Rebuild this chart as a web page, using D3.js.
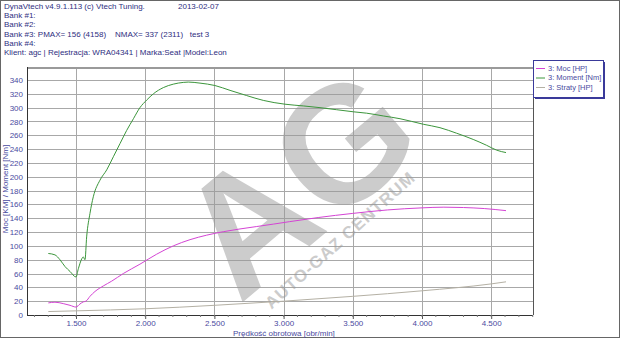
<!DOCTYPE html>
<html>
<head>
<meta charset="utf-8">
<script src="https://cdn.jsdelivr.net/npm/d3@7"></script>
<style>
  body { margin: 0; background: #fff; }
  svg text { font-family: "Liberation Sans", Arial, sans-serif; white-space: pre; }
</style>
</head>
<body>
<div id="chart"></div>
<script>
// dane (obroty [obr/min] -> wartosc)
const momentRpm = [1300, 1348, 1384, 1421, 1457, 1500, 1517, 1541, 1552, 1565, 1577, 1601, 1625, 1673, 1722, 1770, 1818, 1866, 1915, 1962, 2011, 2059, 2131, 2203, 2275, 2311, 2396, 2504, 2613, 2733, 2853, 3010, 3142, 3263, 3384, 3504, 3600, 3720, 3841, 4009, 4130, 4250, 4370, 4467, 4539, 4607];
const momentVal = [89, 87, 80, 70, 63, 55, 67, 81, 84, 80, 113, 147, 171, 195, 210, 229, 248, 267, 284, 300, 311, 320, 329, 334, 336.5, 337, 335.5, 332, 325, 317.5, 310.5, 305, 302.5, 300, 297, 294, 292, 288, 284, 276, 271, 263, 254, 245.5, 238.5, 235];

const mocRpm = [1300, 1348, 1408, 1457, 1500, 1529, 1553, 1572, 1601, 1637, 1697, 1758, 1842, 1962, 2083, 2203, 2324, 2444, 2564, 2685, 2806, 2926, 3041, 3250, 3500, 3750, 4000, 4158, 4300, 4450, 4607];
const mocVal = [17.5, 18.5, 16.5, 14, 11.5, 16, 19, 20, 27, 34, 42, 49, 60, 73.5, 88, 100, 109, 115.5, 120.5, 124.5, 128, 131.5, 135, 141, 147, 152, 155, 156, 155.5, 154, 151];

const stratyRpm = [1300, 1500, 2000, 2500, 3000, 3500, 4000, 4500, 4607];
const stratyVal = [5, 6, 9, 14, 20, 27, 35, 45, 48];

const xTicks = [1500, 2000, 2500, 3000, 3500, 4000, 4500];
const yTicks = d3.range(0, 341, 20);

const headerLines = [
  "DynaVtech v4.9.1.113 (c) Vtech Tuning.",
  "Bank #1:",
  "Bank #2:",
  "Bank #3: PMAX= 156 (4158)    NMAX= 337 (2311)   test 3",
  "Bank #4:",
  "Klient: agc | Rejestracja: WRA04341 | Marka:Seat |Model:Leon"
];
const legendNames = ["3: Moc [HP]", "3: Moment [Nm]", "3: Straty [HP]"];
const colors = ["#d444d4", "#3c963c", "#b4b0a4"];

const width = 620, height = 338;
const plotLeft = 27, plotRight = 533, plotBottom = 315, plotTop = 67;
const txt = "#4a4aa0";

const svg = d3.select("#chart").append("svg")
  .attr("width", width).attr("height", height);

svg.append("rect").attr("x", 0.5).attr("y", 0.5)
  .attr("width", width - 1).attr("height", height - 1)
  .attr("fill", "#fff").attr("stroke", "#666");

const x = d3.scaleLinear().domain([1146, 4802]).range([plotLeft, plotRight]);
const y = d3.scaleLinear().domain([0, 340]).range([plotBottom, 80]);

// siatka
svg.append("g").selectAll("line").data(yTicks.slice(1)).enter().append("line")
  .attr("x1", plotLeft).attr("x2", plotRight)
  .attr("y1", d => Math.round(y(d)) + 0.5).attr("y2", d => Math.round(y(d)) + 0.5)
  .attr("stroke", "#a8a8a8");
svg.append("g").selectAll("line").data(xTicks).enter().append("line")
  .attr("y1", plotTop).attr("y2", plotBottom)
  .attr("x1", d => Math.round(x(d)) + 0.5).attr("x2", d => Math.round(x(d)) + 0.5)
  .attr("stroke", "#a8a8a8");

// znak wodny
const wm = svg.append("g").attr("opacity", 0.5).attr("fill", "#9a9a9a");
wm.append("text").attr("transform", "translate(296,180) rotate(-40)")
  .attr("text-anchor", "middle").attr("dy", "0.36em")
  .style("font-size", "165px").style("font-weight", "bold").text("AG");
wm.append("text").attr("transform", "translate(340,240) rotate(-42)")
  .attr("text-anchor", "middle").attr("dy", "0.35em")
  .style("font-size", "17px").style("font-weight", "bold").style("letter-spacing", "1px")
  .text("AUTO-GAZ CENTRUM");

// ramka wykresu
svg.append("line").attr("x1", plotLeft).attr("x2", plotRight).attr("y1", plotTop + 1).attr("y2", plotTop + 1)
  .attr("stroke", "#9a9a9a").attr("stroke-width", 2);
svg.append("line").attr("x1", plotRight + 0.5).attr("x2", plotRight + 0.5).attr("y1", plotTop).attr("y2", plotBottom)
  .attr("stroke", "#555");

// osie
const xAxis = d3.axisBottom(x).tickValues(xTicks).tickSize(4)
  .tickFormat(d => d3.format(",")(d).replace(",", "."));
const gx = svg.append("g").attr("transform", `translate(0,${plotBottom})`).call(xAxis);
gx.select(".domain").attr("stroke", "#333").attr("d", `M${plotLeft},0.5H${plotRight}`);
gx.selectAll(".tick line").attr("stroke", "#555");
gx.selectAll("text").attr("fill", txt).style("font-size", "8px").attr("dy", "0.55em");
gx.append("g").selectAll("line").data(d3.range(1200, 4801, 100)).enter().append("line")
  .attr("x1", d => x(d)).attr("x2", d => x(d)).attr("y1", 0).attr("y2", 2)
  .attr("stroke", "#777");

const yAxis = d3.axisLeft(y).tickValues(yTicks).tickSize(0).tickPadding(4);
const gy = svg.append("g").attr("transform", `translate(${plotLeft},0)`).call(yAxis);
gy.select(".domain").attr("stroke", "#333").attr("d", `M0.5,${plotTop}V${plotBottom}`);
gy.selectAll("text").attr("fill", txt).style("font-size", "8px");

svg.append("text").attr("transform", `translate(8,189) rotate(-90)`)
  .attr("text-anchor", "middle").attr("fill", txt).style("font-size", "8px")
  .text("Moc [KM] / Moment [Nm]");
svg.append("text").attr("x", 233).attr("y", 336).attr("fill", txt).style("font-size", "8px")
  .text("Prędkość obrotowa [obr/min]");

// krzywe
const line = d3.line().x(d => x(d[0])).y(d => y(d[1])).curve(d3.curveMonotoneX);
const series = [
  d3.zip(mocRpm, mocVal),
  d3.zip(momentRpm, momentVal),
  d3.zip(stratyRpm, stratyVal)
];
[2, 0, 1].forEach(i => {
  svg.append("path").datum(series[i]).attr("d", line)
    .attr("fill", "none").attr("stroke", colors[i]).attr("stroke-width", 1);
});

// naglowek
svg.append("g").selectAll("text").data(headerLines).enter().append("text")
  .attr("x", 4).attr("y", (d, i) => 9 + i * 9.2)
  .attr("fill", "#2e2e80").style("font-size", "8px").text(d => d);
svg.append("text").attr("x", 178).attr("y", 9).attr("fill", "#2e2e80")
  .style("font-size", "8px").text("2013-02-07");

// legenda
const lg = svg.append("g").attr("transform", "translate(533,60)");
lg.append("rect").attr("x", 2).attr("y", 2).attr("width", 70).attr("height", 37).attr("fill", "#3a3a9a");
lg.append("rect").attr("x", 0.5).attr("y", 0.5).attr("width", 70).attr("height", 37)
  .attr("fill", "#fff").attr("stroke", "#3a3a9a");
const items = lg.selectAll(".item").data(legendNames).enter().append("g")
  .attr("transform", (d, i) => `translate(0,${8.5 + i * 9.5})`);
items.append("line").attr("x1", 3).attr("x2", 12).attr("y1", 0).attr("y2", 0)
  .attr("stroke", (d, i) => colors[i]);
items.append("text").attr("x", 15).attr("dy", "0.33em").attr("fill", txt)
  .style("font-size", "7.5px").text(d => d);
</script>
</body>
</html>
